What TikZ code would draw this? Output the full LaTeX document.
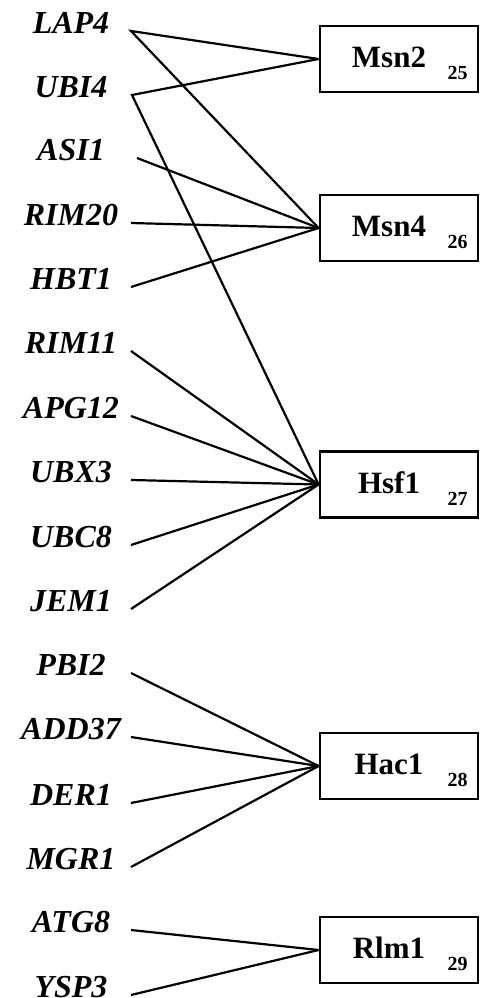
\documentclass[tikz,border=0pt]{standalone}
\usepackage{fontspec}
\setmainfont{Liberation Serif}
\begin{document}
\begin{tikzpicture}[x=1pt,y=-1pt,
  gene/.style={font=\fontsize{32}{36}\selectfont\bfseries\itshape, anchor=base, inner sep=0pt},
  tfbox/.style={draw, line width=2.8pt, minimum width=158pt, minimum height=66pt, inner sep=0pt},
  tflabel/.style={font=\fontsize{31}{36}\selectfont\bfseries, anchor=base, inner sep=0pt},
  tfref/.style={font=\fontsize{20}{24}\selectfont\bfseries, anchor=base, inner sep=0pt},
  link/.style={line width=2.2pt}]
\useasboundingbox (0,0) rectangle (481,998);
% boxes
\node[tfbox] (msn2) at (399,59) {};
\node[tfbox] (msn4) at (399,228) {};
\node[tfbox] (hsf1) at (399,484.5) {};
\node[tfbox] (hac1) at (399,766) {};
\node[tfbox] (rlm1) at (399,950) {};
\node[tflabel] (msn2t) at (389,67) {Msn2};
\node[tfref] (msn2r) at (457.5,79) {25};
\node[tflabel] (msn4t) at (389,236) {Msn4};
\node[tfref] (msn4r) at (457.5,248) {26};
\node[tflabel] (hsf1t) at (389,493) {Hsf1};
\node[tfref] (hsf1r) at (457.5,505) {27};
\node[tflabel] (hac1t) at (389,774) {Hac1};
\node[tfref] (hac1r) at (457.5,786) {28};
\node[tflabel] (rlm1t) at (389,958) {Rlm1};
\node[tfref] (rlm1r) at (457.5,970) {29};
% genes
\foreach \n/\y [count=\i] in {LAP4/31, UBI4/95, ASI1/158, RIM20/223, HBT1/287, RIM11/351, APG12/416, UBX3/480, UBC8/545, JEM1/609, PBI2/673, ADD37/737, DER1/803, MGR1/867, ATG8/930, YSP3/995}{
  \node[gene] (g\n) at (71,\y+2.5) {\n};
}
\coordinate (eLAP4) at (131,31);
\coordinate (eUBI4) at (132,95);
\coordinate (eASI1) at (137,158);
\coordinate (eRIM20) at (131,223);
\coordinate (eHBT1) at (131,287);
\coordinate (eRIM11) at (131,351);
\coordinate (eAPG12) at (131,416);
\coordinate (eUBX3) at (131,480);
\coordinate (eUBC8) at (131,545);
\coordinate (eJEM1) at (131,609);
\coordinate (ePBI2) at (131,673);
\coordinate (eADD37) at (131,737);
\coordinate (eDER1) at (131,803);
\coordinate (eMGR1) at (131,867);
\coordinate (eATG8) at (131,930);
\coordinate (eYSP3) at (131,995);
% connectors
\draw[link] (msn2.west) -- (eLAP4) -- (msn4.west);
\draw[link] (msn2.west) -- (eUBI4) -- (hsf1.west);
\foreach \n in {ASI1, RIM20, HBT1}{\draw[link] (e\n) -- (msn4.west);}
\foreach \n in {RIM11, APG12, UBX3, UBC8, JEM1}{\draw[link] (e\n) -- (hsf1.west);}
\foreach \n in {PBI2, ADD37, DER1, MGR1}{\draw[link] (e\n) -- (hac1.west);}
\foreach \n in {ATG8, YSP3}{\draw[link] (e\n) -- (rlm1.west);}
\end{tikzpicture}
\end{document}
